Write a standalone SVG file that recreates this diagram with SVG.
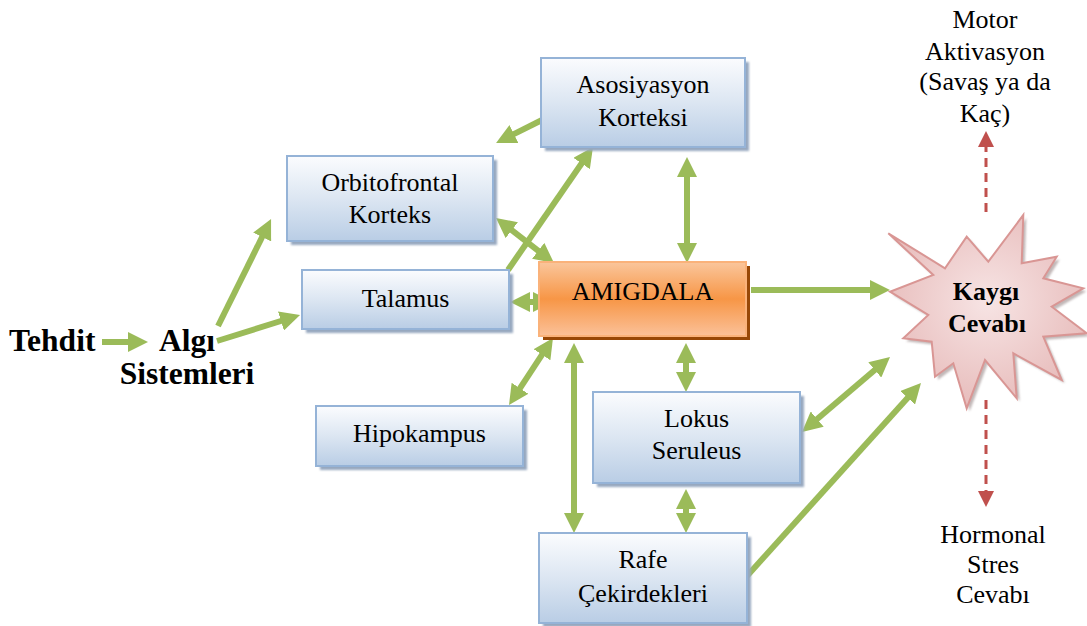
<svg xmlns="http://www.w3.org/2000/svg" width="1087" height="626" viewBox="0 0 1087 626" font-family="'Liberation Serif', 'Times New Roman', 'DejaVu Serif', serif">
  <defs>
    <linearGradient id="boxFill" x1="0" y1="0" x2="0" y2="1">
      <stop offset="0" stop-color="#FBFCFE"/>
      <stop offset="0.5" stop-color="#DCE6F2"/>
      <stop offset="1" stop-color="#B9CDE5"/>
    </linearGradient>
    <linearGradient id="amygFill" x1="0" y1="0" x2="0" y2="1">
      <stop offset="0" stop-color="#FAC69C"/>
      <stop offset="0.5" stop-color="#F79646"/>
      <stop offset="1" stop-color="#FBC199"/>
    </linearGradient>
    <radialGradient id="starFill" cx="0.5" cy="0.45" r="0.6">
      <stop offset="0" stop-color="#F7E4E4"/>
      <stop offset="1" stop-color="#E6B9B8"/>
    </radialGradient>
    <filter id="soft" x="-10%" y="-10%" width="120%" height="120%">
      <feGaussianBlur stdDeviation="0.8"/>
    </filter>
    <marker id="head" viewBox="0 0 20 20" refX="10" refY="10" markerWidth="20" markerHeight="20" markerUnits="userSpaceOnUse" orient="auto-start-reverse">
      <path d="M0,0 L20,10 L0,20 z" fill="#9BBB59"/>
    </marker>
    <marker id="redHead" viewBox="0 0 16 16" refX="4" refY="8" markerWidth="16" markerHeight="16" markerUnits="userSpaceOnUse" orient="auto">
      <path d="M0,0 L16,8 L0,16 z" fill="#C0504D"/>
    </marker>
  </defs>
  <style>
    .shadow { fill: #97A8BF; filter: url(#soft); }
    .box { fill: url(#boxFill); stroke: #95B3D7; stroke-width: 2; }
    .label { font-size: 26px; fill: #000; text-anchor: middle; }
    .bold { font-size: 31.5px; font-weight: bold; fill: #000; }
    .starText { font-size: 26px; font-weight: bold; fill: #000; text-anchor: middle; }
    .conn { stroke: #9BBB59; stroke-width: 6; fill: none; }
    .one { marker-end: url(#head); }
    .two { marker-start: url(#head); marker-end: url(#head); }
    .dash { stroke: #C0504D; stroke-width: 3; stroke-dasharray: 9 6; fill: none; marker-end: url(#redHead); }
  </style>

  <!-- red dashed outputs of the anxiety response -->
  <g id="outputs">
    <line class="dash" x1="986" y1="212" x2="986" y2="143"/>
    <line class="dash" x1="986" y1="400" x2="986" y2="495"/>
  </g>

  <!-- green connectors -->
  <g id="connectors">
    <line class="conn one" x1="102" y1="342" x2="138" y2="342"/>
    <line class="conn one" x1="218" y1="326" x2="266.6" y2="228"/>
    <line class="conn one" x1="217" y1="341" x2="290.5" y2="318"/>
    <line class="conn one" x1="508" y1="270" x2="587.3" y2="155.2"/>
    <line class="conn one" x1="542" y1="120" x2="505" y2="138.5"/>
    <line class="conn two" x1="503.9" y1="224.1" x2="546.1" y2="256.9"/>
    <line class="conn two" x1="687" y1="167" x2="687" y2="253"/>
    <line class="conn two" x1="520" y1="302" x2="543" y2="302"/>
    <line class="conn two" x1="514.5" y1="396.6" x2="547.5" y2="346.4"/>
    <line class="conn two" x1="574" y1="353" x2="574" y2="523"/>
    <line class="conn two" x1="686" y1="353" x2="686" y2="382"/>
    <line class="conn two" x1="686" y1="499" x2="686" y2="523"/>
    <line class="conn two" x1="809.6" y1="425.5" x2="882.4" y2="363.5"/>
    <line class="conn one" x1="747" y1="576" x2="914.3" y2="390.4"/>
    <line class="conn one" x1="751" y1="290" x2="880" y2="290"/>
  </g>

  <g id="tehdit">
    <text class="bold" x="9" y="351">Tehdit</text>
  </g>
  <g id="algi">
    <text class="bold" x="187" y="351" text-anchor="middle">Algı</text>
    <text class="bold" x="187" y="384" text-anchor="middle">Sistemleri</text>
  </g>

  <g id="asosiyasyon">
    <rect class="shadow" x="545" y="62" width="204" height="89"/>
    <rect class="box" x="541" y="58" width="204" height="89"/>
    <text class="label" x="643" y="93">Asosiyasyon</text>
    <text class="label" x="643" y="126">Korteksi</text>
  </g>

  <g id="orbitofrontal">
    <rect class="shadow" x="291" y="160" width="206" height="85"/>
    <rect class="box" x="287" y="156" width="206" height="85"/>
    <text class="label" x="390" y="191">Orbitofrontal</text>
    <text class="label" x="390" y="223">Korteks</text>
  </g>

  <g id="talamus">
    <rect class="shadow" x="306" y="274" width="207" height="59"/>
    <rect class="box" x="302" y="270" width="207" height="59"/>
    <text class="label" x="405.5" y="307">Talamus</text>
  </g>

  <g id="hipokampus">
    <rect class="shadow" x="320" y="410" width="207" height="60"/>
    <rect class="box" x="316" y="406" width="207" height="60"/>
    <text class="label" x="419.5" y="442">Hipokampus</text>
  </g>

  <g id="amigdala">
    <rect x="543" y="266" width="207" height="74" fill="#984807"/>
    <rect x="539" y="262" width="207" height="74" fill="url(#amygFill)" stroke="#FAB27A" stroke-width="2"/>
    <text class="label" x="642.5" y="300">AMIGDALA</text>
  </g>

  <g id="lokus">
    <rect class="shadow" x="597" y="396" width="207" height="91"/>
    <rect class="box" x="593" y="392" width="207" height="91"/>
    <text class="label" x="696.5" y="427">Lokus</text>
    <text class="label" x="696.5" y="459">Seruleus</text>
  </g>

  <g id="rafe">
    <rect class="shadow" x="543" y="537" width="208" height="90"/>
    <rect class="box" x="539" y="533" width="208" height="90"/>
    <text class="label" x="643" y="568">Rafe</text>
    <text class="label" x="643" y="602">Çekirdekleri</text>
  </g>

  <g id="kaygi">
    <polygon transform="translate(3,3)" fill="#A89A9A" opacity="0.7" filter="url(#soft)"
      points="888.3,233.3 945,268.3 966.7,236.7 988.3,261.7 1023.3,215 1021.7,263.3 1056.7,256.7 1043.3,278.3 1083.3,288.3 1051.7,306.7 1086.7,333.3 1043.3,336.7 1061.7,380 1013.3,353.3 1016.7,398.3 985,360 966.7,408.3 953.3,363.3 935,376.7 931.7,341.7 903.3,338.3 928.3,315 890,291.7 933.3,275"/>
    <polygon fill="url(#starFill)" stroke="#D99694" stroke-width="2" stroke-linejoin="miter"
      points="888.3,233.3 945,268.3 966.7,236.7 988.3,261.7 1023.3,215 1021.7,263.3 1056.7,256.7 1043.3,278.3 1083.3,288.3 1051.7,306.7 1086.7,333.3 1043.3,336.7 1061.7,380 1013.3,353.3 1016.7,398.3 985,360 966.7,408.3 953.3,363.3 935,376.7 931.7,341.7 903.3,338.3 928.3,315 890,291.7 933.3,275"/>
    <text class="starText" x="986" y="300">Kaygı</text>
    <text class="starText" x="987" y="332">Cevabı</text>
  </g>

  <g id="motor">
    <text class="label" x="985" y="28">Motor</text>
    <text class="label" x="985" y="60">Aktivasyon</text>
    <text class="label" x="985" y="90">(Savaş ya da</text>
    <text class="label" x="985" y="122">Kaç)</text>
  </g>

  <g id="hormonal">
    <text class="label" x="993" y="543">Hormonal</text>
    <text class="label" x="993" y="573">Stres</text>
    <text class="label" x="993" y="603">Cevabı</text>
  </g>
</svg>
